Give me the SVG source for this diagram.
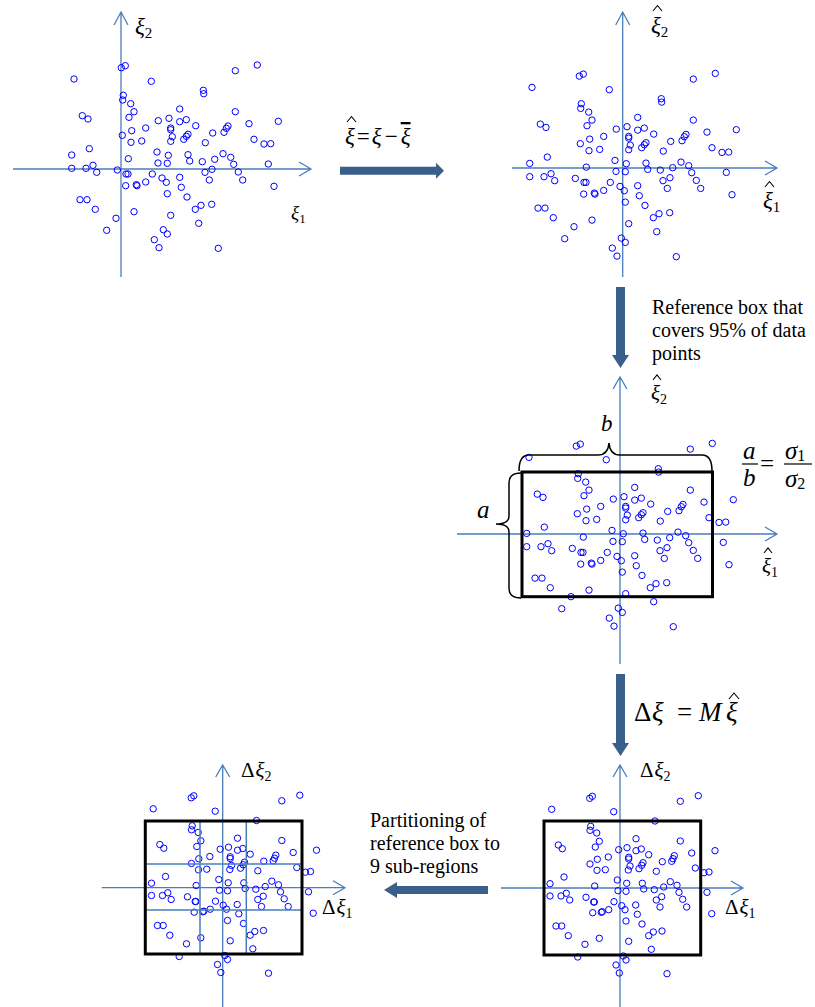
<svg xmlns="http://www.w3.org/2000/svg" xmlns:xlink="http://www.w3.org/1999/xlink" width="815" height="1007" viewBox="0 0 815 1007">
<style>
.pt{fill:none;stroke:#0000FF;stroke-width:1}
.ax{fill:none;stroke:#4A7EBB;stroke-width:1.3}
.box{fill:none;stroke:#000;stroke-width:3}
.brace{fill:none;stroke:#000;stroke-width:1.5}
.grid{fill:none;stroke:#4A7EBB;stroke-width:1.5}
.big{fill:#3A5F8B}
.hat{fill:none;stroke:#000;stroke-width:1.1}
.m{font-family:"Liberation Serif","Times New Roman",serif;fill:#000}
.i{font-style:italic}
.t{font-family:"Liberation Serif","Times New Roman",serif;font-size:20px;fill:#000}
</style>
<defs>
<g id="setA">
<circle class="pt" r="3.2" cx="74" cy="79"/><circle class="pt" r="3.2" cx="121.3" cy="67.7"/><circle class="pt" r="3.2" cx="125.3" cy="65.7"/><circle class="pt" r="3.2" cx="151.3" cy="81.3"/><circle class="pt" r="3.2" cx="235.3" cy="70.7"/><circle class="pt" r="3.2" cx="257.3" cy="65"/><circle class="pt" r="3.2" cx="203.3" cy="90.3"/><circle class="pt" r="3.2" cx="203.7" cy="93.7"/><circle class="pt" r="3.2" cx="123.3" cy="95.3"/><circle class="pt" r="3.2" cx="122.7" cy="100"/><circle class="pt" r="3.2" cx="130.7" cy="103.7"/><circle class="pt" r="3.2" cx="134" cy="111.7"/><circle class="pt" r="3.2" cx="129" cy="117.3"/><circle class="pt" r="3.2" cx="82.3" cy="115.7"/><circle class="pt" r="3.2" cx="88" cy="119"/><circle class="pt" r="3.2" cx="179.7" cy="109"/><circle class="pt" r="3.2" cx="158.3" cy="120.7"/><circle class="pt" r="3.2" cx="169" cy="118.3"/><circle class="pt" r="3.2" cx="179.7" cy="121.7"/><circle class="pt" r="3.2" cx="186.3" cy="119.7"/><circle class="pt" r="3.2" cx="195.7" cy="125.7"/><circle class="pt" r="3.2" cx="170.7" cy="128"/><circle class="pt" r="3.2" cx="170.7" cy="129.7"/><circle class="pt" r="3.2" cx="145.7" cy="128"/><circle class="pt" r="3.2" cx="131.7" cy="130.7"/><circle class="pt" r="3.2" cx="235.3" cy="111.7"/><circle class="pt" r="3.2" cx="249" cy="123.7"/><circle class="pt" r="3.2" cx="278.3" cy="121.3"/><circle class="pt" r="3.2" cx="228" cy="126"/><circle class="pt" r="3.2" cx="226.3" cy="128.3"/><circle class="pt" r="3.2" cx="224" cy="132.3"/><circle class="pt" r="3.2" cx="212.7" cy="133"/><circle class="pt" r="3.2" cx="122.3" cy="135.3"/><circle class="pt" r="3.2" cx="172.3" cy="136.7"/><circle class="pt" r="3.2" cx="170.7" cy="141.3"/><circle class="pt" r="3.2" cx="188" cy="134.3"/><circle class="pt" r="3.2" cx="186.3" cy="136.3"/><circle class="pt" r="3.2" cx="183.7" cy="139.3"/><circle class="pt" r="3.2" cx="131" cy="142.3"/><circle class="pt" r="3.2" cx="141.7" cy="141"/><circle class="pt" r="3.2" cx="205.3" cy="142.7"/><circle class="pt" r="3.2" cx="254" cy="139.3"/><circle class="pt" r="3.2" cx="264" cy="144"/><circle class="pt" r="3.2" cx="270.7" cy="143.7"/><circle class="pt" r="3.2" cx="89.3" cy="148.7"/><circle class="pt" r="3.2" cx="71.7" cy="155"/><circle class="pt" r="3.2" cx="157" cy="152"/><circle class="pt" r="3.2" cx="168.3" cy="155.3"/><circle class="pt" r="3.2" cx="188" cy="154.7"/><circle class="pt" r="3.2" cx="189.7" cy="161"/><circle class="pt" r="3.2" cx="128.3" cy="158.7"/><circle class="pt" r="3.2" cx="223" cy="153.7"/><circle class="pt" r="3.2" cx="230.7" cy="157.3"/><circle class="pt" r="3.2" cx="214.7" cy="159.3"/><circle class="pt" r="3.2" cx="202.3" cy="161.7"/><circle class="pt" r="3.2" cx="158" cy="163"/><circle class="pt" r="3.2" cx="167.3" cy="163.3"/><circle class="pt" r="3.2" cx="233.7" cy="164.3"/><circle class="pt" r="3.2" cx="268.3" cy="164"/><circle class="pt" r="3.2" cx="71.7" cy="168.3"/><circle class="pt" r="3.2" cx="86" cy="168.3"/><circle class="pt" r="3.2" cx="93" cy="165.3"/><circle class="pt" r="3.2" cx="96.7" cy="172.3"/><circle class="pt" r="3.2" cx="117.3" cy="170"/><circle class="pt" r="3.2" cx="126" cy="174"/><circle class="pt" r="3.2" cx="128" cy="174"/><circle class="pt" r="3.2" cx="152.3" cy="174"/><circle class="pt" r="3.2" cx="162" cy="178"/><circle class="pt" r="3.2" cx="166.3" cy="182.3"/><circle class="pt" r="3.2" cx="145.7" cy="182"/><circle class="pt" r="3.2" cx="179.7" cy="177.3"/><circle class="pt" r="3.2" cx="205" cy="172.3"/><circle class="pt" r="3.2" cx="212" cy="169.3"/><circle class="pt" r="3.2" cx="209.3" cy="180"/><circle class="pt" r="3.2" cx="238.3" cy="172"/><circle class="pt" r="3.2" cx="242.7" cy="180"/><circle class="pt" r="3.2" cx="274" cy="186.3"/><circle class="pt" r="3.2" cx="125.7" cy="185.7"/><circle class="pt" r="3.2" cx="136.3" cy="184.7"/><circle class="pt" r="3.2" cx="137" cy="185.7"/><circle class="pt" r="3.2" cx="181.3" cy="187.3"/><circle class="pt" r="3.2" cx="167.3" cy="193.7"/><circle class="pt" r="3.2" cx="187" cy="197"/><circle class="pt" r="3.2" cx="80" cy="199.7"/><circle class="pt" r="3.2" cx="87" cy="199.7"/><circle class="pt" r="3.2" cx="95.3" cy="209.3"/><circle class="pt" r="3.2" cx="134" cy="211.7"/><circle class="pt" r="3.2" cx="170.7" cy="215.3"/><circle class="pt" r="3.2" cx="195.3" cy="209.3"/><circle class="pt" r="3.2" cx="201" cy="205.3"/><circle class="pt" r="3.2" cx="211.7" cy="204.3"/><circle class="pt" r="3.2" cx="198.7" cy="223.3"/><circle class="pt" r="3.2" cx="116" cy="218.3"/><circle class="pt" r="3.2" cx="106.7" cy="230.3"/><circle class="pt" r="3.2" cx="163.3" cy="229.7"/><circle class="pt" r="3.2" cx="167.3" cy="234"/><circle class="pt" r="3.2" cx="154.3" cy="239.7"/><circle class="pt" r="3.2" cx="159" cy="247.7"/><circle class="pt" r="3.2" cx="218.3" cy="248.3"/>
</g>
<g id="setB">
<circle class="pt" r="3.2" cx="551.7" cy="809.3"/><circle class="pt" r="3.2" cx="589.7" cy="798.3"/><circle class="pt" r="3.2" cx="592.3" cy="796.3"/><circle class="pt" r="3.2" cx="613.7" cy="811.7"/><circle class="pt" r="3.2" cx="680.3" cy="801.3"/><circle class="pt" r="3.2" cx="698.3" cy="795.7"/><circle class="pt" r="3.2" cx="655" cy="821"/><circle class="pt" r="3.2" cx="590.7" cy="826.3"/><circle class="pt" r="3.2" cx="590" cy="830.3"/><circle class="pt" r="3.2" cx="596.7" cy="833"/><circle class="pt" r="3.2" cx="599.3" cy="841.3"/><circle class="pt" r="3.2" cx="595.3" cy="847"/><circle class="pt" r="3.2" cx="558.3" cy="845"/><circle class="pt" r="3.2" cx="562.3" cy="848.7"/><circle class="pt" r="3.2" cx="636" cy="838.7"/><circle class="pt" r="3.2" cx="618.7" cy="849.7"/><circle class="pt" r="3.2" cx="627" cy="847.7"/><circle class="pt" r="3.2" cx="636" cy="850.7"/><circle class="pt" r="3.2" cx="641.3" cy="849"/><circle class="pt" r="3.2" cx="648.7" cy="854.7"/><circle class="pt" r="3.2" cx="628.7" cy="857.3"/><circle class="pt" r="3.2" cx="628.7" cy="859"/><circle class="pt" r="3.2" cx="680.3" cy="841"/><circle class="pt" r="3.2" cx="691.7" cy="853"/><circle class="pt" r="3.2" cx="715" cy="850.7"/><circle class="pt" r="3.2" cx="674.3" cy="855.7"/><circle class="pt" r="3.2" cx="673" cy="858.7"/><circle class="pt" r="3.2" cx="671.7" cy="861.3"/><circle class="pt" r="3.2" cx="662.3" cy="861.7"/><circle class="pt" r="3.2" cx="608.3" cy="857"/><circle class="pt" r="3.2" cx="597.3" cy="859.3"/><circle class="pt" r="3.2" cx="590" cy="864"/><circle class="pt" r="3.2" cx="630" cy="866"/><circle class="pt" r="3.2" cx="643" cy="862.7"/><circle class="pt" r="3.2" cx="641.7" cy="865.3"/><circle class="pt" r="3.2" cx="639" cy="868.7"/><circle class="pt" r="3.2" cx="628.3" cy="870"/><circle class="pt" r="3.2" cx="656.3" cy="871.3"/><circle class="pt" r="3.2" cx="605.3" cy="869.7"/><circle class="pt" r="3.2" cx="597" cy="870.3"/><circle class="pt" r="3.2" cx="695.3" cy="868"/><circle class="pt" r="3.2" cx="704" cy="872.7"/><circle class="pt" r="3.2" cx="709" cy="872"/><circle class="pt" r="3.2" cx="564" cy="877"/><circle class="pt" r="3.2" cx="617.3" cy="880"/><circle class="pt" r="3.2" cx="626.7" cy="883.3"/><circle class="pt" r="3.2" cx="642.3" cy="883.3"/><circle class="pt" r="3.2" cx="643.7" cy="889"/><circle class="pt" r="3.2" cx="670.3" cy="881.7"/><circle class="pt" r="3.2" cx="663.7" cy="887"/><circle class="pt" r="3.2" cx="677" cy="885.3"/><circle class="pt" r="3.2" cx="654.3" cy="889.7"/><circle class="pt" r="3.2" cx="550" cy="883.7"/><circle class="pt" r="3.2" cx="594.7" cy="886"/><circle class="pt" r="3.2" cx="618" cy="890.7"/><circle class="pt" r="3.2" cx="626" cy="891.3"/><circle class="pt" r="3.2" cx="550" cy="896"/><circle class="pt" r="3.2" cx="561" cy="896"/><circle class="pt" r="3.2" cx="566.3" cy="893.3"/><circle class="pt" r="3.2" cx="569.7" cy="900"/><circle class="pt" r="3.2" cx="586" cy="897.3"/><circle class="pt" r="3.2" cx="593.7" cy="902"/><circle class="pt" r="3.2" cx="594.3" cy="902"/><circle class="pt" r="3.2" cx="614" cy="901.7"/><circle class="pt" r="3.2" cx="621.7" cy="905.7"/><circle class="pt" r="3.2" cx="625" cy="909.7"/><circle class="pt" r="3.2" cx="635.7" cy="905"/><circle class="pt" r="3.2" cx="656.3" cy="900"/><circle class="pt" r="3.2" cx="661.7" cy="896.7"/><circle class="pt" r="3.2" cx="660" cy="907"/><circle class="pt" r="3.2" cx="679" cy="892.3"/><circle class="pt" r="3.2" cx="682.7" cy="899.3"/><circle class="pt" r="3.2" cx="686.7" cy="907"/><circle class="pt" r="3.2" cx="707" cy="892.3"/><circle class="pt" r="3.2" cx="711.7" cy="913.7"/><circle class="pt" r="3.2" cx="592.7" cy="912.7"/><circle class="pt" r="3.2" cx="601.3" cy="912.3"/><circle class="pt" r="3.2" cx="602.3" cy="911.7"/><circle class="pt" r="3.2" cx="608.7" cy="909.7"/><circle class="pt" r="3.2" cx="637.3" cy="914.3"/><circle class="pt" r="3.2" cx="626" cy="921"/><circle class="pt" r="3.2" cx="642" cy="924"/><circle class="pt" r="3.2" cx="556" cy="926"/><circle class="pt" r="3.2" cx="561.7" cy="926"/><circle class="pt" r="3.2" cx="568.3" cy="935.7"/><circle class="pt" r="3.2" cx="599.3" cy="938.3"/><circle class="pt" r="3.2" cx="648.7" cy="935.7"/><circle class="pt" r="3.2" cx="653.3" cy="932"/><circle class="pt" r="3.2" cx="662" cy="931"/><circle class="pt" r="3.2" cx="628.7" cy="941.3"/><circle class="pt" r="3.2" cx="585" cy="944.3"/><circle class="pt" r="3.2" cx="651.3" cy="949.3"/><circle class="pt" r="3.2" cx="577.7" cy="957"/><circle class="pt" r="3.2" cx="623.3" cy="956"/><circle class="pt" r="3.2" cx="626" cy="960"/><circle class="pt" r="3.2" cx="616" cy="965"/><circle class="pt" r="3.2" cx="619.3" cy="973"/><circle class="pt" r="3.2" cx="667" cy="973.7"/>
</g>
</defs>
<rect width="815" height="1007" fill="#fff"/>

<g id="plot-original">
<path class="ax" d="M13,169 H311 M299,162 L311,169 L299,176 M121,277 V12 M114,25 L121,12 L128,25"/>
<use xlink:href="#setA"/>
<text class="m" x="135" y="34" font-size="23"><tspan class="i">ξ</tspan><tspan font-size="15" dy="4">2</tspan></text>
<text class="m" x="291" y="219" font-size="19"><tspan class="i">ξ</tspan><tspan font-size="13" dy="4">1</tspan></text>
</g>

<g id="plot-centered">
<path class="ax" d="M512,168 H777 M765,161 L777,168 L765,175 M622.7,277 V12 M615.7,25 L622.7,12 L629.7,25"/>
<use xlink:href="#setA" transform="translate(458,8.4)"/>
<polyline class="hat" points="653,11 657.5,5.5 662,11"/>
<text class="m" x="651" y="33" font-size="23"><tspan class="i">ξ</tspan><tspan font-size="15" dy="4">2</tspan></text>
<polyline class="hat" points="765,187 769.5,181.5 774,187"/>
<text class="m" x="763" y="208" font-size="23"><tspan class="i">ξ</tspan><tspan font-size="15" dy="4">1</tspan></text>
</g>

<g id="plot-reference-box">
<path class="ax" d="M457,534 H777 M765,527 L777,534 L765,541 M620,664 V377 M613,389 L620,377 L627,389"/>
<use xlink:href="#setA" transform="translate(455,378.4)"/>
<rect class="box" x="522" y="472" width="190.5" height="124.7"/>
<path class="brace" d="M519,471 Q519,455 529,455 L598,455 Q608,455 609,443 Q610,455 620,455 L702,455 Q712,455 712,471"/>
<path class="brace" d="M521,473 Q509,473 509,483 L509,516 Q509,524 496,524 Q509,524 509,532 L509,588 Q509,598 521,598"/>
<text class="m i" x="601" y="431" font-size="23">b</text>
<text class="m i" x="477" y="518" font-size="25">a</text>
<polyline class="hat" points="653,380 657,375 661,380"/>
<text class="m" x="651" y="400" font-size="21"><tspan class="i">ξ</tspan><tspan font-size="14" dy="4">2</tspan></text>
<polyline class="hat" points="764,553 768,548 772,553"/>
<text class="m" x="762" y="573" font-size="21"><tspan class="i">ξ</tspan><tspan font-size="14" dy="4">1</tspan></text>
</g>

<g id="ratio-formula">
<text class="m i" x="743" y="459" font-size="25">a</text>
<line x1="742" y1="464" x2="758" y2="464" stroke="#000" stroke-width="1.2"/>
<text class="m i" x="743" y="486" font-size="25">b</text>
<text class="m" x="760" y="472" font-size="25">=</text>
<text class="m" x="785" y="459" font-size="25"><tspan class="i">σ</tspan><tspan font-size="16" dy="2">1</tspan></text>
<line x1="784" y1="464" x2="812" y2="464" stroke="#000" stroke-width="1.2"/>
<text class="m" x="785" y="487" font-size="25"><tspan class="i">σ</tspan><tspan font-size="16" dy="2">2</tspan></text>
</g>

<g id="plot-transformed">
<path class="ax" d="M501,888 H743 M731,881 L743,888 L731,895 M620,1007 V765 M613,777 L620,765 L627,777"/>
<use xlink:href="#setB"/>
<rect class="box" x="544" y="821" width="156.7" height="134"/>
<text class="m" x="640" y="777" font-size="21">Δ<tspan class="i" dx="1">ξ</tspan><tspan font-size="14" dy="4">2</tspan></text>
<text class="m" x="725" y="914" font-size="21">Δ<tspan class="i" dx="1">ξ</tspan><tspan font-size="14" dy="4">1</tspan></text>
</g>

<g id="plot-partitioned">
<path class="ax" d="M101.7,887.7 H345 M333,880.7 L345,887.7 L333,894.7 M222.7,1007 V765 M215.7,777 L222.7,765 L229.7,777"/>
<use xlink:href="#setB" transform="translate(-398.5,-0.5)"/>
<path class="grid" d="M200,820 V953 M246.3,820 V953 M146.7,864 H301.7 M146.7,910 H301.7"/>
<rect class="box" x="145.3" y="821" width="156.7" height="133"/>
<text class="m" x="241" y="777" font-size="21">Δ<tspan class="i" dx="1">ξ</tspan><tspan font-size="14" dy="4">2</tspan></text>
<text class="m" x="322" y="914" font-size="21">Δ<tspan class="i" dx="1">ξ</tspan><tspan font-size="14" dy="4">1</tspan></text>
</g>

<g id="connectors">
<polygon class="big" points="340,166.7 436,166.7 436,162.7 444,170.7 436,178.7 436,174.7 340,174.7"/>
<polygon class="big" points="616,287 625,287 625,355 629,355 620.5,368 612,355 616,355"/>
<polygon class="big" points="616,674 625,674 625,743 629,743 620.5,756 612,743 616,743"/>
<polygon class="big" points="488,886 397,886 397,882 384,890 397,898 397,894 488,894"/>
</g>

<g id="label-centering">
<polyline class="hat" points="347,122 351.5,116.5 356,122"/>
<text class="m" x="345" y="144" font-size="23"><tspan class="i">ξ</tspan><tspan dx="2">=</tspan><tspan class="i" dx="2">ξ</tspan><tspan dx="3">−</tspan><tspan class="i" dx="3" text-decoration="overline">ξ</tspan></text>
</g>

<g id="label-reference-box">
<text class="t" x="652" y="314">Reference box that</text>
<text class="t" x="652" y="337">covers 95% of data</text>
<text class="t" x="652" y="360">points</text>
</g>

<g id="label-transform">
<polyline class="hat" points="729,699 734,693 739,699"/>
<text class="m" y="721" font-size="27"><tspan x="634">Δ</tspan><tspan class="i" x="652">ξ</tspan><tspan x="677">=</tspan><tspan class="i" x="699">M</tspan><tspan class="i" x="726">ξ</tspan></text>
</g>

<g id="label-partition">
<text class="t" x="370" y="827">Partitioning of</text>
<text class="t" x="370" y="850">reference box to</text>
<text class="t" x="370" y="873">9 sub-regions</text>
</g>
</svg>
